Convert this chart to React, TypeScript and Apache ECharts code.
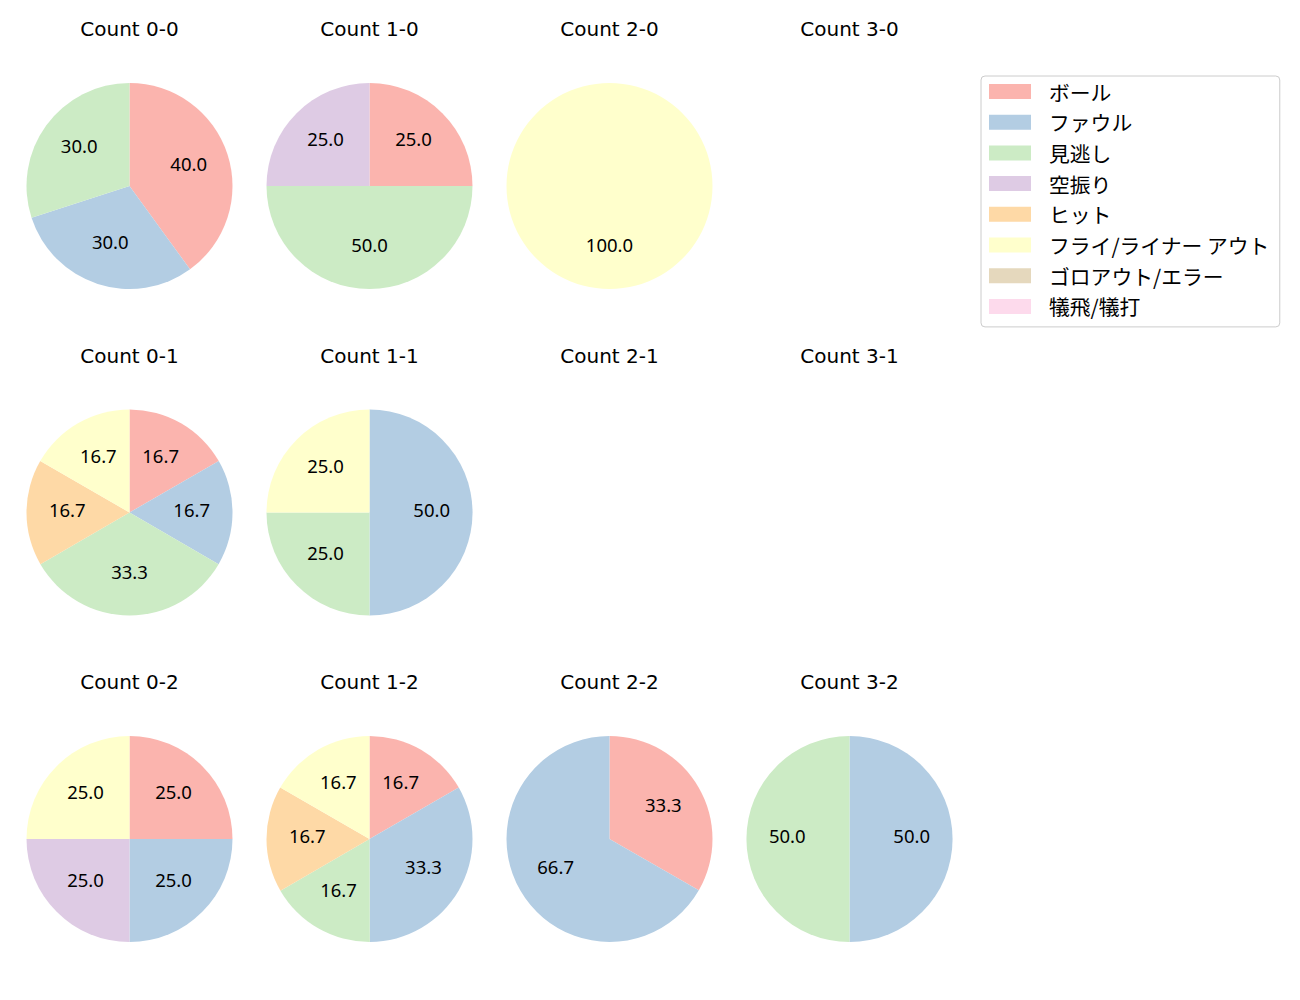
import React, { useEffect, useRef } from "react";
import * as echarts from "echarts";

const CATEGORIES = [
  "ボール",
  "ファウル",
  "見逃し",
  "空振り",
  "ヒット",
  "フライ/ライナー アウト",
  "ゴロアウト/エラー",
  "犠飛/犠打",
];
const COLORS = ["#fbb4ae", "#b3cde3", "#ccebc5", "#decbe4", "#fed9a6", "#ffffcc", "#e5d8bd", "#fddaec"];

// Percentages per category (order of CATEGORIES), row-major 3x4 grid
const TITLES = [
  "Count 0-0", "Count 1-0", "Count 2-0", "Count 3-0",
  "Count 0-1", "Count 1-1", "Count 2-1", "Count 3-1",
  "Count 0-2", "Count 1-2", "Count 2-2", "Count 3-2",
];
const count00 = [40, 30, 30, 0, 0, 0, 0, 0];
const count10 = [25, 0, 50, 25, 0, 0, 0, 0];
const count20 = [0, 0, 0, 0, 0, 100, 0, 0];
const count30: number[] = [];
const count01 = [16.7, 16.7, 33.3, 0, 16.7, 16.7, 0, 0];
const count11 = [0, 50, 25, 0, 0, 25, 0, 0];
const count21: number[] = [];
const count31: number[] = [];
const count02 = [25, 25, 0, 25, 0, 25, 0, 0];
const count12 = [16.7, 33.3, 16.7, 0, 16.7, 16.7, 0, 0];
const count22 = [33.3, 66.7, 0, 0, 0, 0, 0, 0];
const count32 = [0, 50, 50, 0, 0, 0, 0, 0];
const PANELS = [count00, count10, count20, count30, count01, count11, count21, count31, count02, count12, count22, count32];

const COL_X = [129.5, 369.5, 609.5, 849.5];
const ROW_Y = [186, 512.5, 839];
const TITLE_Y = [28.5, 355.5, 682];
const R = 103;
const LABEL_SHIFT = 3.5;
const CJK_FONT = "'Noto Sans CJK JP', 'Noto Sans', sans-serif";
const LABEL_FONT = "'Noto Sans', sans-serif";
const TITLE_FONT = "'DejaVu Sans', sans-serif";

export default function App() {
  const ref = useRef<HTMLDivElement>(null);
  useEffect(() => {
    if (!ref.current) return;
    const chart = echarts.init(ref.current, null, { renderer: "svg" });
    const series: any[] = [];
    // helper series (off-screen) so that all legend entries get their colours
    series.push({
      type: "pie",
      center: [-1000, -1000],
      radius: 5,
      silent: true,
      label: { show: false },
      data: CATEGORIES.map((c, i) => ({ name: c, value: 1, itemStyle: { color: COLORS[i] } })),
    });
    const graphics: any[] = [];
    PANELS.forEach((vals, idx) => {
      const col = idx % 4;
      const row = Math.floor(idx / 4);
      const cx = COL_X[col];
      const cy = ROW_Y[row];
      graphics.push({
        type: "text",
        x: cx,
        y: TITLE_Y[row],
        style: {
          text: TITLES[idx],
          align: "center",
          verticalAlign: "middle",
          fontSize: 20,
          fontFamily: TITLE_FONT,
          fill: "#000",
        },
      });
      const data = vals
        .map((v, i) => ({ name: CATEGORIES[i], value: v, itemStyle: { color: COLORS[i] } }))
        .filter((d) => d.value > 0);
      if (!data.length) return;
      series.push({
        type: "pie",
        center: [cx, cy],
        radius: [0, R],
        startAngle: 90,
        clockwise: true,
        silent: true,
        label: { show: false },
        labelLine: { show: false },
        itemStyle: { borderWidth: 0 },
        emphasis: { disabled: true },
        data,
      });
      series.push({
        type: "pie",
        center: [cx, cy - LABEL_SHIFT],
        radius: [0, R * 1.15],
        startAngle: 90,
        clockwise: true,
        silent: true,
        label: {
          show: true,
          position: "inside",
          formatter: (p: any) => Number(p.value).toFixed(1),
          fontSize: 18.5,
          fontFamily: LABEL_FONT,
          color: "#000",
        },
        labelLine: { show: false },
        itemStyle: { color: "rgba(0,0,0,0)", borderWidth: 0 },
        emphasis: { disabled: true },
        data: data.map((d) => ({ name: d.name, value: d.value, itemStyle: { color: "rgba(0,0,0,0)" } })),
      });
    });

    chart.setOption({
      animation: false,
      backgroundColor: "#fff",
      legend: {
        data: CATEGORIES.map((c) => ({ name: c, icon: "rect" })),
        orient: "vertical",
        left: 981,
        top: 76,
        padding: [4.5, 10, 9.5, 8],
        itemWidth: 42,
        itemHeight: 15,
        itemGap: 8.7,
        selectedMode: false,
        borderColor: "#cccccc",
        borderWidth: 1,
        borderRadius: 4,
        textStyle: {
          fontSize: 20.8,
          lineHeight: 22,
          fontFamily: CJK_FONT,
          color: "#000",
          padding: [0, 0, 0, 13],
        },
      },
      graphic: graphics,
      series,
    });
    return () => chart.dispose();
  }, []);
  return (
    <div
      ref={ref}
      style={{ position: "fixed", left: 0, top: 0, width: 1300, height: 1000 }}
    />
  );
}
